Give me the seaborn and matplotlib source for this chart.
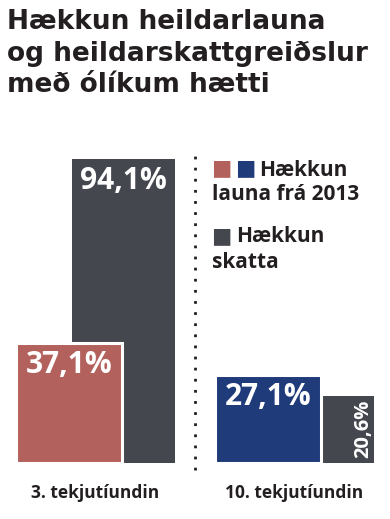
import numpy as np
import pandas as pd
import matplotlib
matplotlib.use("Agg")
import matplotlib.pyplot as plt
import seaborn as sns

# data
groups = ["3. tekjutíundin", "10. tekjutíundin"]
wage_rise = [37.1, 27.1]      # Hækkun launa frá 2013
tax_rise = [94.1, 20.6]       # Hækkun skatta
wage_colors = ["#b3615c", "#1f3b7a"]
tax_color = "#45474e"
title_lines = ["Hækkun heildarlauna", "og heildarskattgreiðslur", "með ólíkum hætti"]

sns.set_theme(style="white")
plt.rcParams["font.family"] = ["Open Sans", "DejaVu Sans"]
ink = "#231f20"

fig = plt.figure(figsize=(3.9, 5.19), dpi=100)
W, H = 390, 519
# axes: full width, baseline at y=463px, top at 150px
ax = fig.add_axes([0, (H - 463) / H, 1, (463 - 150) / H])

pos = np.arange(len(groups), dtype=float)
df_w = pd.DataFrame({"x": pos - 0.134, "val": wage_rise, "grp": groups})
df_t = pd.DataFrame({"x": pos + 0.14, "val": tax_rise, "grp": groups})

# tax bars behind, wage bars in front with a white outline
sns.barplot(data=df_t, x="x", y="val", color=tax_color,
            native_scale=True, width=0.518, ax=ax, saturation=1, linewidth=0)
sns.barplot(data=df_w, x="x", y="val", hue="grp", palette=wage_colors,
            native_scale=True, width=0.53, legend=False, ax=ax,
            saturation=1, linewidth=2.2, edgecolor="white")

ax.set_xlim(-95.5 / 199, (390 - 95.5) / 199)
ax.set_ylim(0, 313 / 3.23)
ax.axis("off")

# value labels
lab_kw = dict(color="white", fontweight="bold", textcoords="offset pixels")
for x, v in zip(df_w["x"], wage_rise):
    ax.annotate(f"{v:.1f}%".replace(".", ","), (x, v), xytext=(0, -22),
                ha="center", va="center", fontsize=21.5, **lab_kw)
ax.annotate(f"{tax_rise[0]:.1f}%".replace(".", ","), (df_t["x"][0], tax_rise[0]),
            xytext=(0, -22), ha="center", va="center", fontsize=21.5, **lab_kw)
ax.annotate(f"{tax_rise[1]:.1f}%".replace(".", ","), (df_t["x"][1], 0),
            xytext=(41, 5), ha="center", va="bottom", rotation=90,
            fontsize=14.5, **lab_kw)

# dotted divider
ax.axvline(0.5, ymin=-0.022, ymax=0.984, color=ink, linestyle=(0, (1, 3)),
           linewidth=2, clip_on=False)

# group labels
for x, g in zip(pos, groups):
    ax.annotate(g, (x, 0), xytext=(0, -30), textcoords="offset pixels",
                ha="center", va="center", fontsize=12.5, fontweight="bold",
                color=ink, annotation_clip=False)

# title
for i, line in enumerate(title_lines):
    fig.text(7 / W, 1 - (29 + 31.5 * i) / H, line, ha="left", va="baseline",
             fontsize=19, fontweight="bold", color=ink,
             family="DejaVu Sans")

# legend
sq = dict(fontsize=15.5, va="center", family="DejaVu Sans")
txt = dict(color=ink, fontsize=15, fontweight="bold", va="center")
fig.text(211 / W, 1 - 168 / H, "■", color=wage_colors[0], **sq)
fig.text(235 / W, 1 - 168 / H, "■", color=wage_colors[1], **sq)
fig.text(259 / W, 1 - 170 / H, "Hækkun", **txt)
fig.text(212 / W, 1 - 194 / H, "launa frá 2013", **txt)
fig.text(211 / W, 1 - 236 / H, "■", color=tax_color, **sq)
fig.text(236 / W, 1 - 237 / H, "Hækkun", **txt)
fig.text(212 / W, 1 - 262 / H, "skatta", **txt)

fig.savefig("out.png", dpi=100)
